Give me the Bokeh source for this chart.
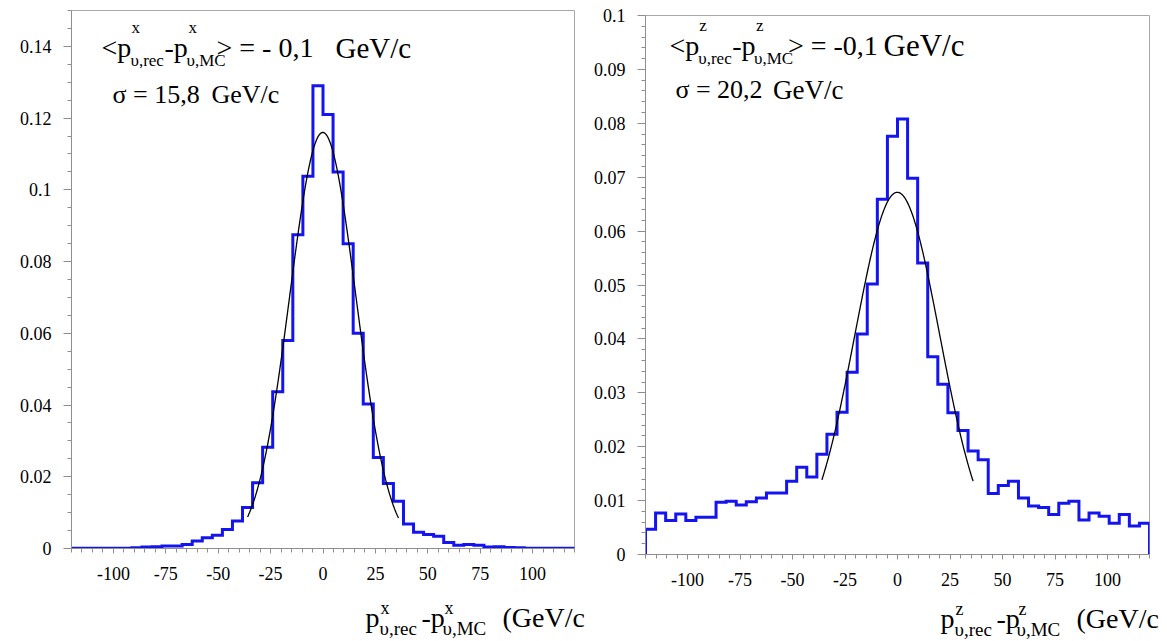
import numpy as np
from bokeh.plotting import figure
from bokeh.layouts import row, column
from bokeh.models import Range1d, FixedTicker, Label, CustomJSTickFormatter
from bokeh.embed import file_html
from bokeh.resources import INLINE

# ---------------- data ----------------
x_lo, x_hi, n_bins = -120.0, 120.0, 50

# p^x_rec - p^x_MC : normalised histogram contents (50 bins from -120 to 120)
px_density = [
    0.0001, 0.0001, 0.0001, 0.0001, 0.0001, 0.0001,
    0.0002, 0.0004, 0.0005, 0.0007, 0.0007, 0.0011, 0.0021, 0.0030, 0.0037,
    0.0053, 0.0077, 0.0114, 0.0183, 0.0282, 0.0437, 0.0580, 0.0875, 0.1038, 0.1290,
    0.1210, 0.1050, 0.0850, 0.0600, 0.0403, 0.0254, 0.0181, 0.0132, 0.0068, 0.0045,
    0.0039, 0.0034, 0.0017, 0.0009, 0.0011, 0.0009, 0.0004, 0.0005, 0.0003, 0.0002,
    0.0001, 0.0001, 0.0001, 0.0001, 0.0001]

# p^z_rec - p^z_MC
pz_density = [
    0.0047, 0.0077, 0.0063, 0.0075, 0.0063, 0.0069, 0.0069, 0.0097, 0.0099, 0.0092,
    0.0098, 0.0105, 0.0114, 0.0114, 0.0136, 0.0162, 0.0144, 0.0186, 0.0223, 0.0264,
    0.0338, 0.0409, 0.0502, 0.0659, 0.0776, 0.0808, 0.0698, 0.0541, 0.0367, 0.0316,
    0.0263, 0.0230, 0.0192, 0.0176, 0.0113, 0.0128, 0.0136, 0.0105, 0.0090, 0.0087,
    0.0074, 0.0095, 0.0099, 0.0064, 0.0077, 0.0071, 0.0058, 0.0074, 0.0053, 0.0058]

px_fit_mean, px_fit_sigma, px_fit_amp, px_fit_lo, px_fit_hi = -0.1, 15.8, 0.116, -36.0, 36.0
pz_fit_mean, pz_fit_sigma, pz_fit_amp, pz_fit_lo, pz_fit_hi = -0.1, 20.2, 0.0672, -36.0, 36.0

x_major_ticks = [-100, -75, -50, -25, 0, 25, 50, 75, 100]
px_y_ticks = [0, 0.02, 0.04, 0.06, 0.08, 0.1, 0.12, 0.14]
pz_y_ticks = [0, 0.01, 0.02, 0.03, 0.04, 0.05, 0.06, 0.07, 0.08, 0.09, 0.1]

FONT = "'Liberation Serif', Times, serif"
HIST_COLOR = "#1414f0"
AXIS_COLOR = "#8e8e8e"
MAIN_H = 592
TITLE_H = 49
PAGE_H = MAIN_H + TITLE_H


def make_fig(width, ymax, y_ticks, y_minor_step, bl, br, bt, bb):
    p = figure(width=width, height=MAIN_H, x_range=Range1d(x_lo, x_hi), y_range=Range1d(0, ymax),
               output_backend="svg", toolbar_location=None, title=None,
               min_border_left=bl, min_border_right=br, min_border_top=bt, min_border_bottom=bb)
    p.xgrid.visible = False
    p.ygrid.visible = False
    p.outline_line_color = "#a8a8a8"
    p.outline_line_width = 1
    p.background_fill_color = "white"
    p.border_fill_color = "white"
    fmt = CustomJSTickFormatter(code="return parseFloat(tick.toFixed(3)).toString();")
    nminor = int(round(ymax / y_minor_step))
    p.xaxis.ticker = FixedTicker(ticks=x_major_ticks, minor_ticks=list(range(-120, 121, 5)))
    p.yaxis.ticker = FixedTicker(ticks=y_ticks, minor_ticks=[i * y_minor_step for i in range(nminor + 1)])
    for ax in (p.xaxis[0], p.yaxis[0]):
        ax.formatter = fmt
        ax.axis_line_color = AXIS_COLOR
        ax.major_tick_line_color = AXIS_COLOR
        ax.minor_tick_line_color = AXIS_COLOR
        ax.major_tick_in = 0
        ax.minor_tick_in = 0
        ax.major_label_text_font = FONT
        ax.major_label_text_font_size = "18px"
        ax.major_label_text_color = "black"
    p.yaxis.major_tick_out = 8
    p.yaxis.minor_tick_out = 4
    p.yaxis.major_label_standoff = 12
    p.xaxis.major_tick_out = 5
    p.xaxis.minor_tick_out = 4
    p.xaxis.major_label_standoff = 13
    return p


def draw_hist(p, values, fit):
    edges = np.linspace(x_lo, x_hi, n_bins + 1)
    vals = np.asarray(values)
    sx = np.repeat(edges, 2)
    sy = np.concatenate([[0.0], np.repeat(vals, 2), [0.0]])
    p.line(sx, sy, line_color=HIST_COLOR, line_width=3, line_join="miter")
    mean, sigma, amp, lo, hi = fit
    fx = np.linspace(lo, hi, 300)
    fy = amp * np.exp(-0.5 * ((fx - mean) / sigma) ** 2)
    p.line(fx, fy, line_color="black", line_width=1.3)


def _label(p, x, y, text, size):
    p.add_layout(Label(x=x, y=y, text=text, text_font=FONT, text_font_size=f"{size}px",
                       text_baseline="alphabetic", text_align="left", text_color="black"))


def labeller(p, fl, fr, ft, fb, ymax):
    # places text given page-pixel positions inside the plot frame
    def put(px, py, text, size):
        x = x_lo + (px - fl) * (x_hi - x_lo) / (fr - fl)
        y = (fb - py) * ymax / (fb - ft)
        _label(p, x, y, text, size)
    return put


def title_fig(width, left):
    q = figure(width=width, height=TITLE_H, x_range=Range1d(0, width), y_range=Range1d(0, TITLE_H),
               output_backend="svg", toolbar_location=None, title=None,
               x_axis_location=None, y_axis_location=None,
               min_border=0, min_border_left=0, min_border_right=0, min_border_top=0, min_border_bottom=0)
    q.xgrid.visible = False
    q.ygrid.visible = False
    q.outline_line_color = None
    q.background_fill_color = "white"
    q.border_fill_color = "white"

    def put(px, py, text, size):
        _label(q, px - left, PAGE_H - py, text, size)
    return q, put


# ---------------- left panel ----------------
p1 = make_fig(590, 0.15, px_y_ticks, 0.005, 71, 16, 10, MAIN_H - 548)
draw_hist(p1, px_density, (px_fit_mean, px_fit_sigma, px_fit_amp, px_fit_lo, px_fit_hi))
t = labeller(p1, 71, 574, 10, 548, 0.15)
t(101, 47, "<p", 28)
t(131, 27, "x", 17)
t(130, 60, "υ,rec", 17)
t(164, 47, "-p", 28)
t(188, 27, "x", 17)
t(186, 60, "υ,MC", 17)
t(216, 47, "> = - 0,1", 28)
t(335, 47, "GeV/c", 29)
t(112, 94, "σ = 15,8", 26)
t(211, 94, "GeV/c", 26)

q1, t = title_fig(590, 0)
t(365, 617, "p", 28)
t(380, 607, "x", 18)
t(379, 628, "υ,rec", 19)
t(421, 617, "-p", 28)
t(444, 607, "x", 18)
t(442, 628, "υ,MC", 19)
t(502, 617, "(GeV/c", 28)

# ---------------- right panel ----------------
p2 = make_fig(577, 0.1, pz_y_ticks, 0.002, 53, 18, 15, MAIN_H - 554)
draw_hist(p2, pz_density, (pz_fit_mean, pz_fit_sigma, pz_fit_amp, pz_fit_lo, pz_fit_hi))
t = labeller(p2, 643, 1149, 15, 554, 0.1)
t(667, 45, "<p", 28)
t(697, 25, "z", 17)
t(696, 58, "υ,rec", 17)
t(730, 45, "-p", 28)
t(754, 25, "z", 17)
t(752, 58, "υ,MC", 17)
t(786, 45, "> = -0,1", 28)
t(882, 45, "GeV/c", 31)
t(673, 89, "σ = 20,2", 26)
t(771, 89, "GeV/c", 27)

q2, t = title_fig(577, 590)
t(940, 618, "p", 28)
t(955, 608, "z", 18)
t(954, 629, "υ,rec", 19)
t(996, 618, "-p", 28)
t(1018, 608, "z", 18)
t(1016, 629, "υ,MC", 19)
t(1076, 618, "(GeV/c", 28)

layout = column(row(column(p1), column(p2)), row(q1, q2))
open("out.html", "w").write(file_html(layout, INLINE))
